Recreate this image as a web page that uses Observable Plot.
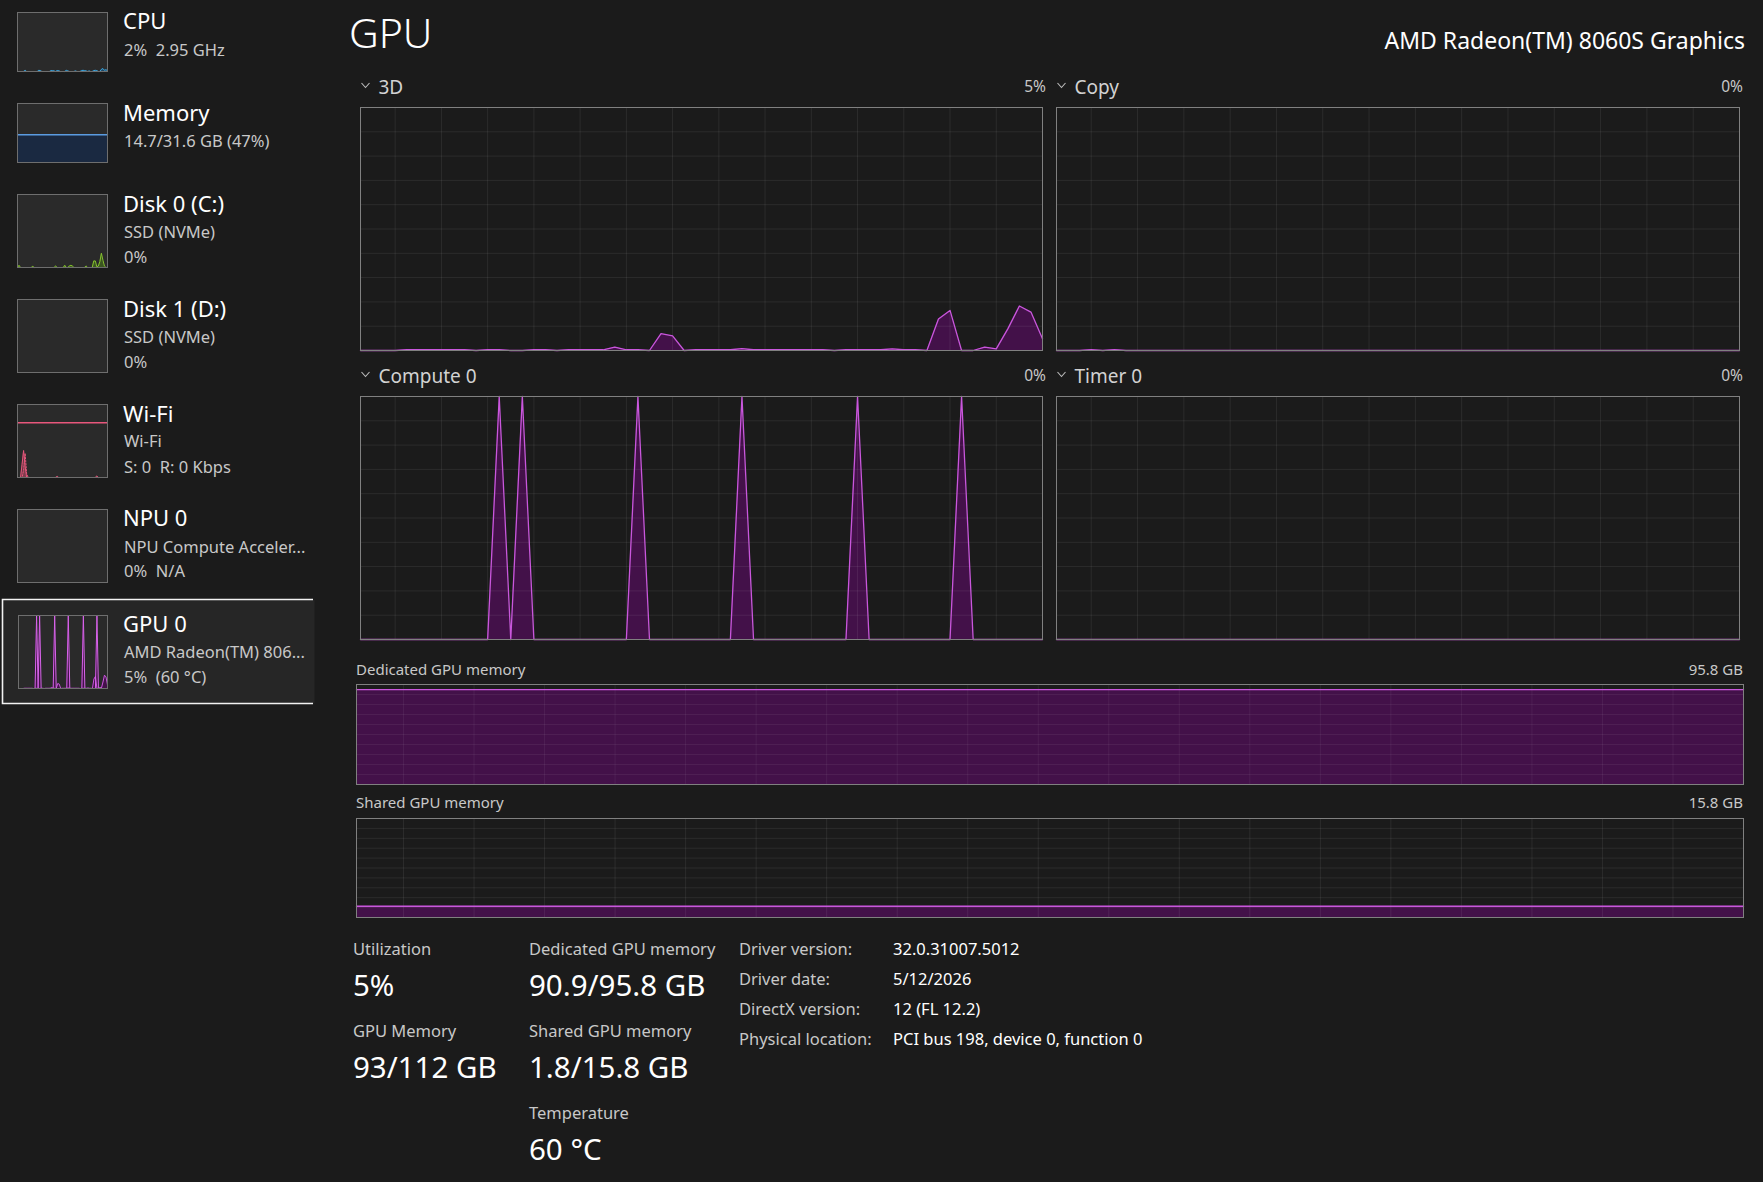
<!DOCTYPE html>
<html><head><meta charset="utf-8">
<script src="https://cdn.jsdelivr.net/npm/d3@7"></script>
<script src="https://cdn.jsdelivr.net/npm/@observablehq/plot@0.6"></script>
<style>
html,body{margin:0;padding:0;background:#1b1b1b;width:1763px;height:1182px;overflow:hidden;font-family:"Noto Sans",sans-serif}
#page{position:relative;width:1763px;height:1182px}
#page svg{position:absolute}
</style></head><body><div id="page"></div>
<script>
// ---------- data (60 one-second samples, oldest first) ----------
const gpu3D = [0,0,0,0,0.3,0.3,0.3,0.3,0.3,0.3, 0,0.3,0.3,0,0,0.3,0.3,0,0.3,0.3,
  0.3,0.3,1.4,0.3,0.3,0,6.9,6.0,0,0.3, 0.3,0.3,0.3,0.8,0.3,0.3,0.3,0.3,0.3,0.3,
  0.3,0,0.3,0.3,0.3,0.3,0.7,0.3,0.3,0, 13,16.5,0,0,1.4,0.7,8.9,18.3,15.8,4.8];
const gpuCopy = [0,0,0,0.4,0,0.4,0,0,0,0, 0,0,0,0,0,0,0,0,0,0, 0,0,0,0,0,0,0,0,0,0,
  0,0,0,0,0,0,0,0,0,0, 0,0,0,0,0,0,0,0,0,0, 0,0,0,0,0,0,0,0,0,0];
const gpuCompute = [0,0,0,0,0,0,0,0,0,0, 0,0,100,0,100,0,0,0,0,0, 0,0,0,0,100,0,0,0,0,0,
  0,0,0,100,0,0,0,0,0,0, 0,0,0,100,0,0,0,0,0,0, 0,0,100,0,0,0,0,0,0,0];
const gpuTimer = [0,0,0,0,0,0,0,0,0,0, 0,0,0,0,0,0,0,0,0,0, 0,0,0,0,0,0,0,0,0,0,
  0,0,0,0,0,0,0,0,0,0, 0,0,0,0,0,0,0,0,0,0, 0,0,0,0,0,0,0,0,0,0];
const dedicatedGB = [90.9,90.9,90.9,90.9,90.9,90.9,90.9,90.9,90.9,90.9, 90.9,90.9,90.9,90.9,90.9,90.9,90.9,90.9,90.9,90.9,
  90.9,90.9,90.9,90.9,90.9,90.9,90.9,90.9,90.9,90.9, 90.9,90.9,90.9,90.9,90.9,90.9,90.9,90.9,90.9,90.9,
  90.9,90.9,90.9,90.9,90.9,90.9,90.9,90.9,90.9,90.9, 90.9,90.9,90.9,90.9,90.9,90.9,90.9,90.9,90.9,90.9];
const dedicatedMaxGB = 95.8;
const sharedGB = [1.8,1.8,1.8,1.8,1.8,1.8,1.8,1.8,1.8,1.8, 1.8,1.8,1.8,1.8,1.8,1.8,1.8,1.8,1.8,1.8,
  1.8,1.8,1.8,1.8,1.8,1.8,1.8,1.8,1.8,1.8, 1.8,1.8,1.8,1.8,1.8,1.8,1.8,1.8,1.8,1.8,
  1.8,1.8,1.8,1.8,1.8,1.8,1.8,1.8,1.8,1.8, 1.8,1.8,1.8,1.8,1.8,1.8,1.8,1.8,1.8,1.8];
const sharedMaxGB = 15.8;
const cpuPct = [0,0,0,0,0,2,0,0,0,0, 0,0,0,0,2,1.5,0,0,0,0, 0,0,1.5,1.5,1,0,1.5,1.5,0,0,
  0,0,2,1,0,0,0,0,1,0, 0,0,1.5,2,1.5,1,0,1,0,0, 1.5,2,1.5,0,0,3.5,5,2,3,1.5];
const memPct = [47,47,47,47,47,47,47,47,47,47, 47,47,47,47,47,47,47,47,47,47, 47,47,47,47,47,47,47,47,47,47,
  47,47,47,47,47,47,47,47,47,47, 47,47,47,47,47,47,47,47,47,47, 47,47,47,47,47,47,47,47,47,47];
const disk0Pct = [0,3,0,0,0,0,0,0,0,0, 1.5,0,0,0,0,0,0,0,0,0, 0,0,0,0,0,2,0,0,0,0,
  0,3,0,0,2,3,2,0,0,0, 0,0,0,0,0,2,0,0,0,0, 9,9,1,2,8,19.5,10,2,0,0];
const disk1Pct = [0,0,0,0,0,0,0,0,0,0, 0,0,0,0,0,0,0,0,0,0, 0,0,0,0,0,0,0,0,0,0,
  0,0,0,0,0,0,0,0,0,0, 0,0,0,0,0,0,0,0,0,0, 0,0,0,0,0,0,0,0,0,0];
const wifiRecv = [0,0,0,18,37,15,0,0,0,0, 0,0,0,0,0,0,0,0,0,0, 0,0,0,0,0,0,1.5,0,0,0,
  0,0,0,0,0,0,0,0,0,0, 0,0,0,0,0,0,0,0,0,0, 0,0,2,0,0,0,0,0,0,0];
const wifiSend = [0,0,0,0,10,33,5,0,0,0, 0,0,0,0,0,0,0,0,0,0, 0,0,0,0,0,0,0,0,0,0,
  0,0,0,0,0,0,0,0,0,0, 0,0,0,0,0,0,0,0,0,0, 0,0,0,0,0,0,0,0,0,0];
const wifiScaleLine = [75];
const npuPct = disk1Pct;

// ---------- text ----------
const sidebarItems = [
  {title:"CPU", lines:["2%  2.95 GHz"], ty:29, ly:[56]},
  {title:"Memory", lines:["14.7/31.6 GB (47%)"], ty:121, ly:[147]},
  {title:"Disk 0 (C:)", lines:["SSD (NVMe)","0%"], ty:212, ly:[238,263]},
  {title:"Disk 1 (D:)", lines:["SSD (NVMe)","0%"], ty:317, ly:[343,368]},
  {title:"Wi-Fi", lines:["Wi-Fi","S: 0  R: 0 Kbps"], ty:422, ly:[447,473]},
  {title:"NPU 0", lines:["NPU Compute Acceler...","0%  N/A"], ty:526, ly:[553,577]},
  {title:"GPU 0", lines:["AMD Radeon(TM) 806...","5%  (60 °C)"], ty:632, ly:[658,683]}
];
const engineNames = ["3D","Copy","Compute 0","Timer 0"];
const engineNow = ["5%","0%","0%","0%"];
const statLabels = ["Utilization","GPU Memory","Dedicated GPU memory","Shared GPU memory","Temperature"];
const statValues = ["5%","93/112 GB","90.9/95.8 GB","1.8/15.8 GB","60 °C"];
const infoLabels = ["Driver version:","Driver date:","DirectX version:","Physical location:"];
const infoValues = ["32.0.31007.5012","5/12/2026","12 (FL 12.2)","PCI bus 198, device 0, function 0"];

const N = 60;
const page = document.getElementById("page");
const WHITE = "#ffffff", SUB = "#c8c8c8";
const PURPLE = "#c957dc", PURPLE_FILL = "#431149";

// ---------- overlay svg for text ----------
const ov = d3.create("svg").attr("width",1763).attr("height",1182)
  .style("left","0px").style("top","0px").attr("font-family","Noto Sans");
function txt(s,x,y,size,color,anchor="start",weight=400){
  ov.append("text").attr("x",x).attr("y",y).attr("font-size",size).attr("fill",color)
    .attr("text-anchor",anchor).attr("font-weight",weight).style("white-space","pre").text(s);
}
// selected item
ov.append("rect").attr("x",2.5).attr("y",599.5).attr("width",312).attr("height",104).attr("fill","#262626");
ov.append("path").attr("d","M313,599.5H2.5V703.5H313").attr("fill","none").attr("stroke","#f2f2f2").attr("stroke-width",1.6);

sidebarItems.forEach(it=>{
  txt(it.title,123,it.ty,22,WHITE);
  it.lines.forEach((l,i)=>txt(l,124,it.ly[i],16.5,SUB));
});
txt("GPU",349,48,41,WHITE,"start",300);
txt("AMD Radeon(TM) 8060S Graphics",1745,49,23,WHITE,"end");

const enginePos = [{x:360,y:107},{x:1056,y:107},{x:360,y:396},{x:1056,y:396}];
const EW = [682,683,682,683], EH = 243;
enginePos.forEach((p,i)=>{
  const cy = p.y-24;
  ov.append("path").attr("d",`M${p.x+1.5},${cy}l4,4.5l4,-4.5`).attr("fill","none").attr("stroke","#bdbdbd").attr("stroke-width",1.1);
  txt(engineNames[i],p.x+18.5,p.y-13,19,"#d2d2d2");
  txt(engineNow[i],p.x+EW[i]+4,p.y-15.5,15.5,SUB,"end");
});
txt("Dedicated GPU memory",356,675,15,SUB);
txt(dedicatedMaxGB+" GB",1743,675,15,SUB,"end");
txt("Shared GPU memory",356,808,15,SUB);
txt(sharedMaxGB+" GB",1743,808,15,SUB,"end");

const statPos = [[353,955],[353,1037],[529,955],[529,1037],[529,1119]];
statLabels.forEach((l,i)=>{
  txt(l,statPos[i][0],statPos[i][1],16.5,SUB);
  txt(statValues[i],statPos[i][0],statPos[i][1]+41,29.5,WHITE);
});
infoLabels.forEach((l,i)=>{
  txt(l,739,955+30*i,16.5,SUB);
  txt(infoValues[i],893,955+30*i,16.5,WHITE);
});
page.appendChild(ov.node());

// ---------- charts ----------
function chart({left, top, width, height, series, yMax=100, xGrid=null, yRows=0, frame="#7d7d7d", bgFill=null, rules=null, gridOpacity=0.075}){
  const marks = [];
  if (bgFill) marks.push(Plot.frame({fill:bgFill, stroke:null}));
  for (const s of series) {
    const d = s.data.map((v,i)=>({i,v}));
    if (s.fill) marks.push(Plot.areaY(d,{x:"i",y:"v",fill:s.fill,fillOpacity:s.fillOpacity??1}));
  }
  if (xGrid) marks.push(Plot.ruleX(xGrid,{stroke:"#ffffff",strokeOpacity:gridOpacity,strokeWidth:1}));
  if (yRows) marks.push(Plot.ruleY(d3.range(1,yRows).map(k=>k*yMax/yRows),{stroke:"#ffffff",strokeOpacity:gridOpacity,strokeWidth:1}));
  if (rules) marks.push(Plot.ruleY(rules.values,{stroke:rules.stroke,strokeWidth:1.5}));
  for (const s of series) {
    const d = s.data.map((v,i)=>({i,v}));
    marks.push(Plot.lineY(d,{x:"i",y:"v",stroke:s.stroke,strokeWidth:s.sw??1.2,strokeDasharray:s.dash??null}));
  }
  marks.push(Plot.frame({stroke:frame,strokeWidth:1}));
  const svg = Plot.plot({
    width:width+2, height:height+2, margin:1,
    x:{domain:[0,N-1],axis:null}, y:{domain:[0,yMax],axis:null},
    style:{background:"transparent",overflow:"visible"}, marks
  });
  svg.style.left=(left-1)+"px"; svg.style.top=(top-1)+"px";
  page.appendChild(svg);
}

const engineGrid = d3.range(3,N-1,4);   // scrolling grid every 4 samples
const memGrid = d3.range(2,N-1,3);      // every 3 samples
const engineData = [gpu3D,gpuCopy,gpuCompute,gpuTimer];
enginePos.forEach((p,i)=>chart({left:p.x,top:p.y,width:EW[i],height:EH,
  series:[{data:engineData[i],stroke:PURPLE,fill:PURPLE_FILL,sw:1.3}],xGrid:engineGrid,yRows:10,frame:"#808080"}));
chart({left:356,top:684,width:1387,height:100,yMax:dedicatedMaxGB,gridOpacity:0.06,
  series:[{data:dedicatedGB,stroke:PURPLE,fill:PURPLE_FILL,sw:1.4}],xGrid:memGrid,yRows:10,frame:"#808080"});
chart({left:356,top:818,width:1387,height:99,yMax:sharedMaxGB,
  series:[{data:sharedGB,stroke:PURPLE,fill:PURPLE_FILL,sw:1.4}],xGrid:memGrid,yRows:10,frame:"#808080"});

// sidebar thumbnails
const TF = "#2a2a2a", TB = "#6e6e6e";
chart({left:17,top:12,width:90,height:59,bgFill:TF,frame:TB,
  series:[{data:cpuPct,stroke:"#3fa7de",fill:"#1f4560",sw:1}]});
chart({left:17,top:103,width:90,height:59,bgFill:TF,frame:TB,
  series:[{data:memPct,stroke:"#5b9be0",fill:"#1a2941",sw:1.3}]});
chart({left:17,top:194,width:90,height:73,bgFill:TF,frame:TB,
  series:[{data:disk0Pct,stroke:"#86c22e",fill:"#3b5620",sw:1}]});
chart({left:17,top:299,width:90,height:73,bgFill:TF,frame:TB,
  series:[{data:disk1Pct,stroke:"#86c22e",fill:"#3b5620",sw:1}]});
chart({left:17,top:404,width:90,height:73,bgFill:TF,frame:TB,rules:{values:wifiScaleLine,stroke:"#e8577c"},
  series:[{data:wifiRecv,stroke:"#e8577c",fill:"#e8577c",fillOpacity:0.3,sw:1},
          {data:wifiSend,stroke:"#e8577c",fill:"#e8577c",fillOpacity:0.2,sw:1,dash:"1.5,1.5"}]});
chart({left:17,top:509,width:90,height:73,bgFill:TF,frame:TB,
  series:[{data:npuPct,stroke:"#3fa7de",fill:null,sw:1}]});
chart({left:18,top:615,width:89,height:73,bgFill:TF,frame:TB,
  series:[{data:gpu3D,stroke:PURPLE,fill:PURPLE_FILL,sw:1},
          {data:gpuCompute,stroke:"#d863ea",fill:PURPLE_FILL,sw:1}]});
</script></body></html>
